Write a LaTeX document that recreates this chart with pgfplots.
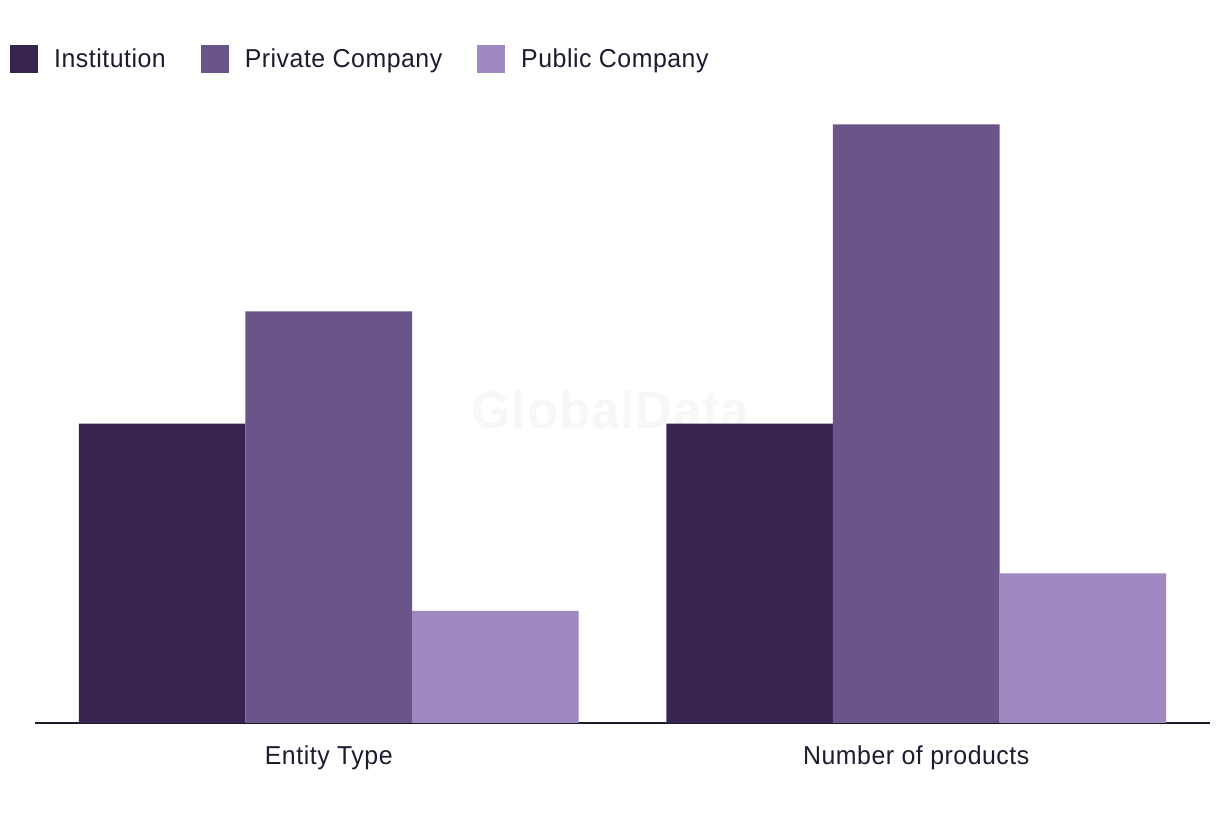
\documentclass[border=0pt]{standalone}
\usepackage{fontspec}
\setmainfont{Liberation Sans}[FakeStretch=0.96,LetterSpace=2]
\usepackage{pgfplots}
\pgfplotsset{compat=1.18}
\definecolor{inst}{HTML}{372451}
\definecolor{priv}{HTML}{6A5489}
\definecolor{publ}{HTML}{A088C1}
\definecolor{txt}{HTML}{1E1B2E}
\begin{document}
\begin{tikzpicture}[x=1bp,y=1bp]
\useasboundingbox (0,0) rectangle (1220,820);
\node[text=black!3,font=\bfseries\fontsize{53}{53}\selectfont] at (610,410) {GlobalData};
\begin{axis}[
  at={(35bp,97bp)}, anchor=south west,
  scale only axis, width=1175bp, height=636bp,
  xmin=-0.5, xmax=1.5, ymin=0, ymax=17,
  ybar, bar shift=0pt, bar width=0.2836,
  axis y line=none, axis x line*=bottom,
  x axis line style={line width=1.5pt, color=txt, -},
  xtick={0,1}, xticklabels={Entity Type,Number of products},
  major tick length=0pt,
  xticklabel style={font=\fontsize{26}{26}\selectfont, text=txt, yshift=-19bp},
  legend style={at={(-28bp,680bp)}, anchor=north west, draw=none, fill=none,
    legend columns=3, font=\fontsize{26}{26}\selectfont, text=txt,
    /tikz/every odd column/.append style={column sep=14bp},
    /tikz/every even column/.append style={column sep=33bp}},
  legend image code/.code={\fill[#1] (0bp,-14bp) rectangle (28bp,14bp);},
]
\addplot[fill=inst, draw=none] coordinates {(-0.2836,8) (0.7164,8)};
\addplot[fill=priv, draw=none] coordinates {(0,11) (1,16)};
\addplot[fill=publ, draw=none] coordinates {(0.2836,3) (1.2836,4)};
\legend{Institution,Private Company,Public Company}
\end{axis}
\end{tikzpicture}
\end{document}
